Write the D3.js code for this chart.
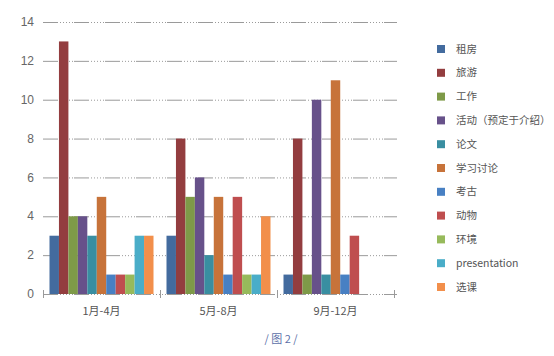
<!DOCTYPE html>
<html><head><meta charset="utf-8">
<script src="https://cdn.jsdelivr.net/npm/d3@7"></script>
<style>
html,body{margin:0;padding:0;background:#fff;}
svg{display:block;font-family:"Noto Sans CJK SC","Noto Sans",sans-serif;}
</style></head>
<body>
<svg id="chart" width="554" height="356"></svg>
<script>
const categories = ["1月-4月", "5月-8月", "9月-12月"];
const seriesNames = ["租房","旅游","工作","活动（预定于介绍）","论文","学习讨论","考古","动物","环境","presentation","选课"];
const values租房 = [3, 3, 1];
const values旅游 = [13, 8, 8];
const values工作 = [4, 5, 1];
const values活动 = [4, 6, 10];
const values论文 = [3, 2, 1];
const values学习讨论 = [5, 5, 11];
const values考古 = [1, 1, 1];
const values动物 = [1, 5, 3];
const values环境 = [1, 1, 0];
const valuesPresentation = [3, 1, 0];
const values选课 = [3, 4, 0];
const seriesValues = [values租房, values旅游, values工作, values活动, values论文, values学习讨论, values考古, values动物, values环境, valuesPresentation, values选课];
const colors = ["#436b9e","#933d3f","#7e9a48","#67518a","#398ea1","#c7733a","#4880c3","#bf4e4f","#97ba5b","#4aadc8","#f28f4b"];
const yTicks = [0, 2, 4, 6, 8, 10, 12, 14];
const caption = "/ 图 2 /";

const svg = d3.select("#chart");
const x0 = d3.scaleBand().domain(categories).range([43, 394]).paddingInner(0).paddingOuter(0);
const x1 = d3.scaleBand().domain(d3.range(seriesNames.length)).range([6.5, x0.bandwidth() - 6.5]).padding(0);
const y = d3.scaleLinear().domain([0, 14]).range([294, 22]);

const dash = "15,2,1,2,1,2,1,2,1,2,1,1";

// grid lines
svg.append("g").selectAll("line").data(yTicks).join("line")
  .attr("x1", 43).attr("x2", 397)
  .attr("y1", d => y(d) + 0.5).attr("y2", d => y(d) + 0.5)
  .attr("stroke", "#9a9a9a").attr("stroke-width", 1)
  .attr("stroke-dasharray", dash);

// y labels
svg.append("g").selectAll("text").data(yTicks).join("text")
  .attr("x", 34).attr("y", d => y(d)).attr("dy", "0.35em")
  .attr("text-anchor", "end").attr("font-size", 12).attr("fill", "#666")
  .attr("font-family", "Arial, 'Liberation Sans', sans-serif")
  .text(d => d);

// bars
const groups = svg.append("g").selectAll("g").data(categories).join("g")
  .attr("transform", d => `translate(${x0(d)},0)`);
groups.selectAll("rect").data((c, ci) => seriesValues.map((s, si) => ({si, v: s[ci]})))
  .join("rect")
  .attr("x", d => x1(d.si))
  .attr("width", x1.bandwidth())
  .attr("y", d => y(d.v))
  .attr("height", d => y(0) - y(d.v))
  .attr("fill", d => colors[d.si]);

// x axis ticks
const edges = [43].concat(categories.map(c => x0(c) + x0.bandwidth()));
svg.append("g").selectAll("line").data(edges).join("line")
  .attr("x1", d => Math.round(d) + 0.5).attr("x2", d => Math.round(d) + 0.5)
  .attr("y1", 290).attr("y2", 298)
  .attr("stroke", "#9a9a9a");

// x labels
svg.append("g").selectAll("text").data(categories).join("text")
  .attr("x", d => x0(d) + x0.bandwidth() / 2).attr("y", 311).attr("dy", "0.35em")
  .attr("text-anchor", "middle").attr("font-size", 11).attr("fill", "#555")
  .text(d => d);

// legend
const legend = svg.append("g").selectAll("g").data(seriesNames).join("g")
  .attr("transform", (d, i) => `translate(437,${49 + i * 23.8})`);
legend.append("rect").attr("x", 0).attr("y", -4).attr("width", 8).attr("height", 8)
  .attr("fill", (d, i) => colors[i]);
legend.append("text").attr("x", 19).attr("y", 0).attr("dy", "0.35em")
  .attr("font-size", 10.5).attr("fill", "#555").text(d => d);

// caption
svg.append("text").attr("x", 281).attr("y", 339).attr("dy", "0.35em")
  .attr("text-anchor", "middle").attr("font-size", 11).attr("fill", "#5b6fa8")
  .text(caption);
</script>
</body></html>
